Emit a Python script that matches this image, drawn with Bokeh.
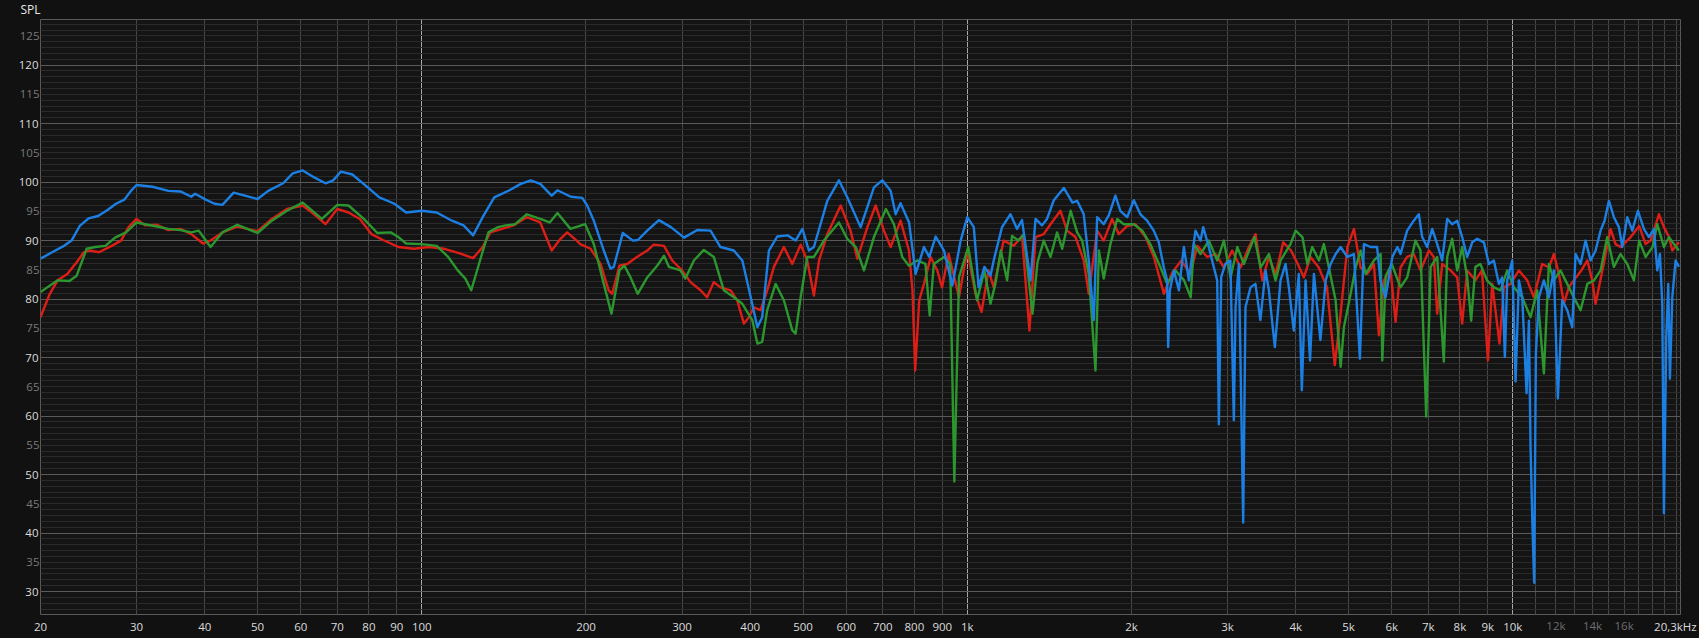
from bokeh.plotting import figure
from bokeh.models import (Range1d, FixedTicker, LinearAxis, LogAxis,
                          GlobalInlineStyleSheet)
from bokeh.embed import file_html
from bokeh.resources import INLINE

# ---------------- data (frequency Hz, SPL dB) ----------------
blue = [(20.0, 86.9), (21.0, 88.0), (22.0, 89.0), (22.8, 90.0), (23.6, 92.5), (24.5, 93.8), (25.5, 94.2),
        (26.5, 95.2), (27.5, 96.3), (28.5, 97.0), (29.3, 98.5), (30.0, 99.5), (32.1, 99.2), (34.3, 98.5),
        (36.1, 98.4), (37.8, 97.5), (38.4, 98.0), (40.0, 97.1), (41.7, 96.3), (43.1, 96.1), (45.2, 98.2),
        (47.4, 97.7), (50.0, 97.1), (52.3, 98.5), (55.7, 99.8), (58.0, 101.5), (60.5, 102.0), (63.5, 100.8),
        (66.6, 99.8), (68.8, 100.3), (71.1, 101.8), (74.6, 101.3), (79.6, 99.1), (83.6, 97.4), (89.1, 96.3),
        (93.6, 94.8), (100, 95.1), (106.5, 94.8), (113.6, 93.4), (119.3, 92.6), (124.2, 90.9), (129.3, 94.0),
        (135.8, 97.4), (144.8, 98.6), (151.9, 99.7), (158.4, 100.3), (164.9, 99.7), (173, 97.7), (177.3, 98.6),
        (187.6, 97.5), (196.9, 97.3), (201, 96.0), (206.7, 93.4), (215.6, 88.3), (221.8, 85.2), (224.9, 85.5),
        (233.6, 91.3), (243.8, 90.0), (249.0, 90.1), (259.0, 91.7), (272.1, 93.5), (286.2, 92.3), (302.5, 90.5),
        (320, 91.8), (338.3, 91.7), (352.8, 88.9), (373.3, 88.3), (386.9, 86.6), (400.9, 80.3), (412.3, 75.2),
        (420.8, 76.9), (432.9, 88.3), (448.4, 90.7), (468.0, 90.9), (484.5, 90.0), (498.6, 92.0), (512.5, 88.3),
        (523.4, 88.9), (553.8, 96.8), (581.7, 100.3), (602.5, 97.4), (637.5, 92.3), (674.4, 99.1), (698.5, 100.3),
        (723.6, 98.5), (739.0, 94.5), (754.5, 96.4), (782.3, 93.1), (804.1, 84.3), (833.0, 88.9), (851.7, 87.2),
        (875.1, 90.7), (906.4, 88.3), (938.8, 82.3), (972.4, 90.0), (1000, 94.0), (1028, 92.3), (1049, 82.0),
        (1075, 85.5), (1103, 84.0), (1118, 86.6), (1158, 92.3), (1200, 94.5), (1234, 92.0), (1260, 93.5),
        (1306, 83.2), (1334, 93.7), (1371, 92.6), (1400, 93.7), (1441, 96.9), (1503, 99.0), (1559, 96.5),
        (1590, 96.8), (1635, 94.5), (1670, 86.6), (1706, 76.4), (1730, 94.0), (1779, 92.8), (1817, 94.3),
        (1869, 97.7), (1908, 95.1), (1964, 94.0), (2020, 96.9), (2077, 94.5), (2136, 93.4), (2197, 91.7),
        (2244, 89.7), (2293, 85.4), (2325, 83.2), (2335, 71.8), (2352, 81.5), (2392, 84.9), (2443, 81.5),
        (2495, 88.9), (2548, 83.2), (2620, 91.7), (2677, 90.0), (2707, 92.3), (2772, 88.9), (2832, 85.4),
        (2872, 83.2), (2892, 58.6), (2921, 83.8), (2974, 86.0), (3036, 86.6), (3081, 59.3), (3103, 78.6),
        (3147, 86.0), (3205, 41.8), (3236, 78.6), (3306, 82.0), (3375, 82.6), (3446, 76.4), (3522, 84.9),
        (3572, 81.5), (3663, 71.8), (3752, 83.2), (3832, 86.0), (3886, 82.0), (3968, 74.6), (4053, 84.3),
        (4105, 64.4), (4170, 83.2), (4250, 69.5), (4320, 84.3), (4440, 73.0), (4540, 83.2), (4635, 86.0),
        (4735, 87.7), (4835, 88.9), (4975, 87.2), (5115, 87.7), (5245, 69.8), (5335, 89.4), (5485, 88.9),
        (5640, 88.9), (5720, 83.2), (5845, 80.3), (6015, 87.2), (6145, 88.9), (6226, 87.7), (6403, 91.7),
        (6584, 93.4), (6727, 94.5), (6823, 90.6), (6968, 88.9), (7117, 92.0), (7269, 89.4), (7424, 86.6),
        (7582, 93.7), (7743, 92.8), (7908, 93.4), (8077, 90.6), (8250, 87.2), (8427, 89.7), (8606, 90.3),
        (8852, 89.7), (9041, 86.0), (9233, 86.6), (9430, 82.6), (9564, 83.7), (9672, 70.1), (9768, 83.2),
        (9977, 86.6), (10119, 65.9), (10262, 83.2), (10408, 80.3), (10600, 63.9), (10705, 76.3), (10779, 54.7),
        (10870, 40.8), (10947, 31.5), (11025, 70.7), (11166, 80.3), (11403, 83.2), (11647, 80.3), (11895, 84.9),
        (12097, 63.0), (12321, 79.8), (12585, 78.1), (12854, 75.2), (13036, 87.7), (13314, 86.0), (13598, 90.0),
        (13888, 86.6), (14185, 88.3), (14487, 91.7), (14733, 93.4), (15006, 96.8), (15326, 94.0), (15653, 92.3),
        (15876, 88.9), (16213, 94.0), (16560, 91.7), (16961, 95.1), (17396, 92.0), (17768, 90.6), (18147, 92.0),
        (18403, 84.9), (18612, 87.7), (18797, 79.2), (18929, 43.4), (19116, 73.5), (19278, 82.6), (19414, 66.4),
        (19608, 80.3), (19884, 86.6), (20165, 85.5)]

red = [(20.0, 76.9), (20.8, 80.9), (21.5, 83.2), (22.4, 84.3), (23.3, 86.3), (24.0, 88.0), (24.6, 88.3),
       (25.6, 88.0), (27.0, 89.1), (28.1, 90.0), (29.0, 92.3), (30.0, 93.7), (31.1, 92.6), (32.7, 92.7),
       (34.3, 91.8), (36.1, 92.0), (37.8, 91.1), (39.7, 89.5), (41.0, 90.0), (43.1, 91.4), (45.9, 92.4),
       (50.0, 91.6), (53.1, 93.7), (56.6, 95.4), (60.5, 96.0), (63.5, 94.5), (66.6, 92.8), (70.0, 95.4),
       (73.4, 94.8), (77.0, 93.7), (80.9, 91.1), (84.9, 90.1), (90.6, 88.9), (96.7, 88.6), (103.1, 88.9),
       (110, 88.6), (117.4, 87.8), (124.2, 87.0), (129.3, 88.9), (133.6, 91.4), (140.3, 92.0), (147.2, 92.6),
       (155.8, 94.0), (164.9, 93.1), (173, 88.3), (179.6, 90.3), (184.7, 91.4), (190.7, 90.3), (195.3, 89.4),
       (203.9, 88.6), (212.7, 86.0), (220.1, 81.5), (223.4, 80.9), (230.3, 85.7), (238.0, 86.0), (248.0, 87.2),
       (259.0, 88.3), (266.2, 89.3), (278.0, 89.1), (287.8, 86.6), (300.0, 84.9), (310.9, 82.9), (324.4, 81.5),
       (333.5, 80.3), (343.0, 82.9), (352.8, 82.0), (368.2, 81.5), (378.6, 79.8), (389.5, 75.8), (397.8, 76.9),
       (406.3, 78.6), (417.9, 78.1), (429.8, 81.5), (442.1, 85.5), (461.1, 88.9), (477.7, 86.0), (494.9, 89.3),
       (508.9, 86.6), (523.4, 80.6), (534.9, 86.6), (553.8, 91.1), (586.0, 96.0), (611.0, 91.7), (628.7, 86.9),
       (656.0, 92.3), (679.2, 96.0), (703.4, 91.7), (723.6, 88.9), (754.5, 93.4), (781.8, 88.3), (793.6, 81.5),
       (802.5, 67.8), (816.5, 79.8), (833.0, 82.6), (856.8, 87.2), (881.1, 84.9), (899.0, 82.0), (924.6, 87.7),
       (965.6, 80.3), (1000, 88.3), (1035, 80.9), (1062, 77.8), (1094, 84.9), (1118, 82.0), (1166, 90.0),
       (1217, 89.1), (1260, 90.8), (1300, 74.6), (1334, 90.6), (1381, 91.1), (1421, 92.8), (1482, 95.1),
       (1524, 91.7), (1579, 90.6), (1635, 86.6), (1670, 80.9), (1730, 91.7), (1779, 90.0), (1843, 93.7),
       (1896, 91.1), (1964, 92.5), (2034, 92.8), (2122, 90.6), (2198, 87.2), (2294, 80.9), (2375, 84.5),
       (2468, 86.6), (2565, 84.3), (2640, 89.1), (2753, 87.2), (2852, 87.7), (2955, 85.4), (3059, 88.3),
       (3169, 85.4), (3283, 88.9), (3377, 91.1), (3474, 83.2), (3572, 87.2), (3675, 84.3), (3795, 89.7),
       (3922, 88.3), (4035, 86.0), (4141, 83.7), (4258, 87.2), (4409, 85.4), (4565, 82.0), (4717, 68.7),
       (4835, 77.5), (4975, 88.9), (5115, 92.0), (5260, 85.4), (5411, 84.3), (5565, 86.0), (5684, 73.8),
       (5805, 83.2), (5970, 84.9), (6098, 76.1), (6226, 85.4), (6403, 87.2), (6584, 87.7), (6775, 84.9),
       (7017, 88.3), (7167, 87.2), (7269, 77.5), (7424, 86.0), (7689, 84.9), (7908, 83.7), (8077, 75.8),
       (8250, 84.9), (8540, 83.2), (8780, 84.9), (9005, 69.5), (9170, 82.6), (9455, 72.4), (9630, 82.0),
       (9905, 82.6), (10262, 84.9), (10630, 83.2), (10932, 80.3), (11320, 86.0), (11647, 85.4), (11895, 87.7),
       (12150, 84.3), (12410, 79.2), (12670, 82.0), (12940, 83.2), (13360, 84.9), (13700, 86.6), (13985, 83.2),
       (14185, 79.2), (14680, 86.0), (15110, 92.0), (15430, 89.4), (15760, 88.9), (16450, 90.6), (17050, 92.5),
       (17520, 89.4), (17893, 90.0), (18530, 94.5), (18930, 92.3), (19340, 90.6), (19610, 88.3), (20165, 89.7)]

green = [(20.0, 81.2), (20.8, 82.3), (21.5, 83.2), (22.6, 83.1), (23.3, 84.0), (24.3, 88.6), (25.2, 88.9),
         (26.3, 89.1), (27.4, 90.5), (28.7, 91.4), (30.0, 93.1), (31.1, 92.8), (32.7, 92.4), (34.3, 92.0),
         (36.1, 91.8), (37.8, 91.4), (39.0, 91.7), (41.0, 88.9), (43.1, 91.4), (45.9, 92.7), (50.0, 91.3),
         (53.1, 93.4), (56.6, 95.1), (60.5, 96.5), (65.6, 93.7), (70.0, 96.1), (73.4, 96.0), (78.3, 93.7),
         (82.9, 91.3), (87.7, 91.4), (90.6, 90.6), (93.6, 89.5), (99.8, 89.4), (106.5, 89.1), (111.8, 87.2),
         (116.4, 84.9), (120.2, 83.5), (123.2, 81.5), (127.3, 86.0), (132.5, 91.4), (138.0, 92.3), (142.5, 92.6),
         (148.3, 92.8), (155.8, 94.5), (164.9, 93.7), (171.6, 93.1), (177.3, 94.7), (187.3, 92.0), (199.3, 92.8),
         (206.7, 89.4), (215.6, 82.6), (222.7, 77.5), (230.3, 84.9), (235.2, 85.7), (241.4, 83.7), (248.8, 80.9),
         (259.0, 83.7), (270.1, 85.7), (278.0, 87.4), (283.9, 85.5), (298.0, 84.9), (304.2, 83.5), (315.4, 86.6),
         (328.9, 88.4), (343.0, 87.2), (357.9, 81.5), (373.3, 80.3), (386.9, 79.2), (403.6, 76.4), (412.3, 72.4),
         (420.8, 72.7), (429.8, 78.1), (445.3, 82.6), (461.1, 79.8), (477.7, 74.7), (484.5, 74.1), (494.9, 80.3),
         (508.9, 87.2), (523.4, 87.2), (546.0, 90.0), (581.7, 93.1), (602.5, 90.3), (624.7, 88.9), (646.5, 84.9),
         (674.4, 90.6), (709.4, 95.4), (733.8, 92.8), (759.9, 87.2), (781.8, 85.7), (809.2, 86.6), (838.3, 86.0),
         (853.3, 77.2), (868.3, 86.0), (906.4, 87.2), (930.5, 86.0), (946.9, 48.8), (965.6, 83.7), (1004, 88.9),
         (1042, 79.8), (1075, 84.9), (1103, 79.2), (1126, 82.6), (1152, 88.3), (1183, 83.2), (1208, 90.8),
         (1242, 90.0), (1269, 91.1), (1317, 77.5), (1345, 86.3), (1381, 90.0), (1421, 87.2), (1461, 91.4),
         (1493, 88.6), (1547, 95.1), (1590, 91.4), (1624, 90.0), (1670, 84.3), (1718, 67.8), (1743, 88.3),
         (1779, 83.5), (1830, 89.4), (1883, 93.7), (1936, 92.8), (2020, 92.8), (2093, 91.7), (2165, 89.4),
         (2261, 85.4), (2325, 82.6), (2409, 84.9), (2497, 83.2), (2568, 80.3), (2602, 89.4), (2676, 87.7),
         (2772, 90.0), (2872, 86.6), (2954, 90.0), (3039, 83.7), (3126, 88.9), (3214, 86.0), (3360, 90.6),
         (3449, 85.4), (3573, 87.7), (3674, 83.2), (3753, 86.6), (3913, 89.4), (3999, 91.7), (4115, 90.6),
         (4201, 86.0), (4289, 88.9), (4414, 86.6), (4505, 89.4), (4602, 85.4), (4734, 79.8), (4836, 68.4),
         (4903, 75.2), (5044, 80.9), (5152, 85.4), (5261, 88.3), (5375, 84.3), (5566, 86.6), (5725, 87.7),
         (5765, 69.5), (5850, 84.0), (6000, 86.0), (6226, 82.0), (6403, 83.7), (6632, 90.0), (6775, 88.3),
         (6940, 59.9), (7070, 85.5), (7269, 87.2), (7475, 69.3), (7582, 87.2), (7743, 90.3), (7908, 84.9),
         (8077, 88.9), (8250, 83.7), (8390, 76.3), (8540, 85.5), (8720, 86.0), (8970, 83.2), (9233, 82.0),
         (9497, 81.5), (9768, 84.9), (10050, 82.0), (10408, 80.3), (10779, 76.9), (11087, 81.5), (11403, 67.3),
         (11647, 86.0), (11895, 83.2), (12230, 84.9), (12585, 82.6), (12940, 80.3), (13314, 78.1), (13700, 82.6),
         (14090, 83.2), (14487, 84.9), (14900, 90.6), (15326, 85.5), (15760, 87.7), (16213, 86.0), (16677, 83.2),
         (17050, 90.0), (17520, 87.2), (18040, 88.9), (18403, 92.8), (18929, 88.9), (19340, 90.6), (19750, 89.4),
         (20165, 88.3)]

x_ticks = [20, 30, 40, 50, 60, 70, 80, 90, 100, 200, 300, 400, 500, 600, 700, 800, 900,
           1000, 2000, 3000, 4000, 5000, 6000, 7000, 8000, 9000, 10000, 19870]
x_labels = ["20", "30", "40", "50", "60", "70", "80", "90", "100", "200", "300", "400", "500",
            "600", "700", "800", "900", "1k", "2k", "3k", "4k", "5k", "6k", "7k", "8k", "9k", "10k", "20,3kHz"]
x_dim_ticks = [12000, 14000, 16000]
x_dim_labels = ["12k", "14k", "16k"]
x_grid_major = [100, 1000, 10000]
x_grid_minor = [20, 30, 40, 50, 60, 70, 80, 90, 200, 300, 400, 500, 600, 700, 800, 900,
                2000, 3000, 4000, 5000, 6000, 7000, 8000, 9000,
                11000, 12000, 13000, 14000, 15000, 16000, 17000, 18000, 19000, 20000]
y_ticks = [30, 40, 50, 60, 70, 80, 90, 100, 110, 120]
y_dim_ticks = [35, 45, 55, 65, 75, 85, 95, 105, 115, 125]
y_grid_minor = list(range(27, 128))

FONT = "Open Sans"

p = figure(width=1699, height=638, x_axis_type="log",
           x_range=Range1d(20, 20300), y_range=Range1d(26.07, 127.8),
           output_backend="svg", toolbar_location=None,
           min_border_left=40, min_border_right=19, min_border_top=18, min_border_bottom=24,
           background_fill_color="#141414", border_fill_color="#111111",
           outline_line_color="#5a5a5a")

p.stylesheets = [GlobalInlineStyleSheet(
    css="html, body { margin: 0 !important; padding: 0 !important; background-color: #111111; overflow: hidden; }")]

# title "SPL" top-left
p.title.text = "SPL"
p.title.align = "left"
p.title.offset = -20
p.title.standoff = 0
p.title.vertical_align = "top"
p.title.text_font = FONT
p.title.text_font_size = "12px"
p.title.text_font_style = "normal"
p.title.text_color = "#e6e6e6"

# grids
p.xgrid.ticker = FixedTicker(ticks=x_grid_major, minor_ticks=x_grid_minor)
p.xgrid.grid_line_color = "#a8a8a8"
p.xgrid.minor_grid_line_color = "#474747"
p.ygrid.ticker = FixedTicker(ticks=y_ticks, minor_ticks=y_grid_minor)
p.ygrid.grid_line_color = "#5a5a5a"
p.ygrid.minor_grid_line_color = "#2a2a2a"

def style_axis(ax, color):
    ax.axis_line_color = None
    ax.major_tick_line_color = None
    ax.minor_tick_line_color = None
    ax.major_tick_out = 0
    ax.major_tick_in = 0
    ax.minor_tick_out = 0
    ax.minor_tick_in = 0
    ax.major_label_text_font = FONT
    ax.major_label_text_font_size = "11.5px"
    ax.major_label_text_color = color

style_axis(p.xaxis[0], "#dcdcdc")
style_axis(p.yaxis[0], "#dcdcdc")
p.xaxis[0].ticker = FixedTicker(ticks=x_ticks)
p.xaxis[0].major_label_overrides = dict(zip(x_ticks, x_labels))
p.xaxis[0].major_label_standoff = 4
p.yaxis[0].ticker = FixedTicker(ticks=y_ticks)
p.yaxis[0].major_label_standoff = 2

# dimmer secondary labels, overlaid onto the same label band
y_dim_axis = LinearAxis(ticker=FixedTicker(ticks=y_dim_ticks), major_label_standoff=-24)
style_axis(y_dim_axis, "#7a7a7a")
p.add_layout(y_dim_axis, "left")

x_dim_axis = LogAxis(ticker=FixedTicker(ticks=x_dim_ticks), major_label_standoff=-19,
                     major_label_overrides=dict(zip(x_dim_ticks, x_dim_labels)))
style_axis(x_dim_axis, "#6e6e6e")
p.add_layout(x_dim_axis, "below")

# curves: red, green, blue on top
for data, col in ((red, "#dc1e16"), (green, "#2c962f"), (blue, "#1c7fe4")):
    f, s = zip(*data)
    p.line(list(f), list(s), line_color=col, line_width=2.4, line_join="round")

open("out.html", "w").write(file_html(p, INLINE))
